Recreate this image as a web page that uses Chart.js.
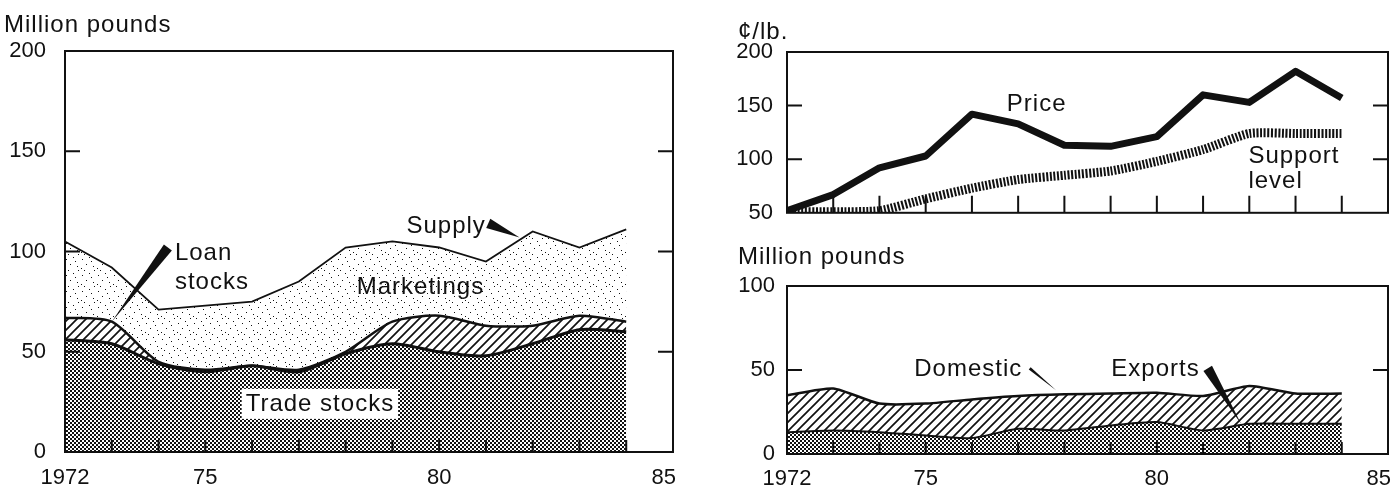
<!DOCTYPE html>
<html>
<head>
<meta charset="utf-8">
<script src="https://cdn.jsdelivr.net/npm/chart.js"></script>
<style>
  html, body { margin: 0; padding: 0; background: #fff; overflow: hidden; width: 1394px; height: 492px; }
  canvas { position: absolute; }
</style>
</head>
<body>
<canvas id="supplyChart" width="700" height="492" style="left:0;top:0"></canvas>
<canvas id="priceChart" width="720" height="240" style="left:700px;top:0"></canvas>
<canvas id="useChart" width="720" height="252" style="left:700px;top:240px"></canvas>
<script>
// data
const years = [1972, 1973, 1974, 1975, 1976, 1977, 1978, 1979, 1980, 1981, 1982, 1983, 1984];
const tradeStocks = [56, 54, 44, 40, 43, 40, 49, 54, 50, 48, 54, 61, 60];
const loanStocks = [11, 11, 1, 1, 0, 1, 1, 11, 18, 15, 9, 7, 5];
const marketings = [38, 27, 26, 32, 32, 44, 52, 40, 34, 32, 47, 34, 46];
const price = [52, 67, 92, 103, 142, 133, 113, 112, 121, 160, 153, 182, 157];
const supportLevel = [51, 51, 52, 63, 73, 81, 85, 89, 98, 109, 124, 124, 124];
const exportsUse = [13, 14, 13, 11, 9.5, 15, 14, 17, 19, 14, 18, 18, 18];
const domesticUse = [22, 25, 17, 19, 23, 19.5, 21.5, 19, 17.5, 20.5, 22.5, 18, 18];

// the "85" label sits a hair left of the frame edge
const yearTicks = [1972, 1975, 1980, 1984.8];
const yearTickLabels = ['1972', '75', '80', '85'];
const supplyTicks = [0, 50, 100, 150, 200];
const priceTicks = [50, 100, 150, 200];
const useTicks = [0, 50, 100];

const INK = '#111';
const FONT = '"Liberation Sans", Arial, sans-serif';

const pts = arr => years.map((yr, i) => ({ x: yr, y: arr[i] }));

// fill textures
const tile = (size, draw) => {
    const c = document.createElement('canvas');
    c.width = size; c.height = size;
    const g = c.getContext('2d');
    g.fillStyle = '#fff'; g.fillRect(0, 0, size, size);
    g.fillStyle = INK; g.strokeStyle = INK;
    draw(g, size);
    return c;
};
const denseTile = tile(4, g => { g.fillRect(0, 0, 2, 2); g.fillRect(2, 2, 2, 2); });
const hatchTile = tile(9, (g, s) => {
    g.lineWidth = 1.7;
    g.beginPath();
    g.moveTo(-1, s + 1); g.lineTo(s + 1, -1);
    g.moveTo(-2, 2); g.lineTo(2, -2);
    g.moveTo(s - 2, s + 2); g.lineTo(s + 2, s - 2);
    g.stroke();
});
const stippleTile = tile(16, g => {
    [[2, 3], [9, 1], [6, 8], [13, 10], [1, 12], [11, 5], [4, 14], [14, 14]].forEach(([x, y]) => g.fillRect(x, y, 1, 1));
});

const wedge = (ctx, x1, y1, x2, y2, w) => {
    const dx = x2 - x1, dy = y2 - y1, len = Math.hypot(dx, dy);
    const nx = -dy / len * w / 2, ny = dx / len * w / 2;
    ctx.beginPath();
    ctx.moveTo(x1 + nx, y1 + ny);
    ctx.lineTo(x2, y2);
    ctx.lineTo(x1 - nx, y1 - ny);
    ctx.closePath();
    ctx.fill();
};

// frame, inward ticks, title and the in-plot notes
const decor = (opts) => ({
    id: 'decor',
    afterDatasetsDraw(chart) {
        const { ctx, chartArea: a, scales: { x, y } } = chart;
        ctx.save();
        ctx.strokeStyle = INK;
        ctx.lineWidth = 2;
        ctx.strokeRect(a.left, a.top, a.right - a.left, a.bottom - a.top);
        ctx.beginPath();
        opts.yTicks.forEach(v => {
            const py = y.getPixelForValue(v);
            ctx.moveTo(a.left, py); ctx.lineTo(a.left + 15, py);
            ctx.moveTo(a.right, py); ctx.lineTo(a.right - 15, py);
        });
        years.slice(1).forEach(yr => {
            const px = x.getPixelForValue(yr);
            ctx.moveTo(px, a.bottom); ctx.lineTo(px, a.bottom - opts.xTickLen);
        });
        ctx.stroke();

        ctx.fillStyle = INK;
        ctx.font = '24px ' + FONT;
        ctx.letterSpacing = '1px';
        ctx.textBaseline = 'middle';
        ctx.textAlign = 'left';
        ctx.fillText(opts.title[0], opts.title[1], opts.title[2]);

        (opts.wedges || []).forEach(w => {
            wedge(ctx, x.getPixelForValue(w[0]), y.getPixelForValue(w[1]),
                x.getPixelForValue(w[2]), y.getPixelForValue(w[3]), w[4]);
        });
        (opts.notes || []).forEach(n => {
            const px = x.getPixelForValue(n.x), py = y.getPixelForValue(n.y);
            ctx.textAlign = n.align || 'center';
            if (n.box) {
                const tw = ctx.measureText(n.text).width;
                ctx.fillStyle = '#fff';
                ctx.fillRect(px - tw / 2 - 4, py - 15, tw + 8, 30);
                ctx.fillStyle = INK;
            }
            ctx.fillText(n.text, px, py);
        });
        ctx.restore();
    }
});

const xScale = (showLabels, height, pad) => ({
    type: 'linear', min: 1972, max: 1985,
    grid: { display: false, drawTicks: false }, border: { display: false },
    afterBuildTicks: s => { s.ticks = yearTicks.map(v => ({ value: v })); },
    afterFit: s => { s.height = height; },
    ticks: {
        display: showLabels, autoSkip: false, maxRotation: 0, padding: pad, color: INK,
        font: { family: FONT, size: 22 },
        callback: v => yearTickLabels[yearTicks.indexOf(v)]
    }
});
const yScale = (min, max, tickVals, width, pad, stacked) => ({
    min: min, max: max, stacked: stacked,
    grid: { display: false, drawTicks: false }, border: { display: false },
    afterBuildTicks: s => { s.ticks = tickVals.map(v => ({ value: v })); },
    afterFit: s => { s.width = width; },
    ticks: { padding: pad, color: INK, font: { family: FONT, size: 22 } }
});
const baseOptions = (padding, scales) => ({
    responsive: false, animation: false, devicePixelRatio: 1,
    layout: { padding: padding },
    elements: { point: { radius: 0 } },
    plugins: { legend: { display: false }, tooltip: { enabled: false } },
    scales: scales
});

// left: supply
const ctxS = document.getElementById('supplyChart').getContext('2d');
new Chart(ctxS, {
    type: 'line',
    data: {
        datasets: [
            { label: 'Trade stocks', data: pts(tradeStocks), fill: 'origin', tension: 0.25,
              backgroundColor: ctxS.createPattern(denseTile, 'repeat'), borderColor: INK, borderWidth: 3 },
            { label: 'Loan stocks', data: pts(loanStocks), fill: '-1', tension: 0.25,
              backgroundColor: ctxS.createPattern(hatchTile, 'repeat'), borderColor: INK, borderWidth: 2.5 },
            { label: 'Marketings', data: pts(marketings), fill: '-1', tension: 0,
              backgroundColor: ctxS.createPattern(stippleTile, 'repeat'), borderColor: INK, borderWidth: 1.8 }
        ]
    },
    options: baseOptions({ top: 51, right: 27, left: 0, bottom: 0 }, {
        x: xScale(true, 40, 13),
        y: yScale(0, 200, supplyTicks, 65, 19, true)
    }),
    plugins: [decor({
        yTicks: [50, 100, 150], xTickLen: 12,
        title: ['Million pounds', 4, 25],
        wedges: [[1981.05, 114, 1981.72, 107, 10], [1974.2, 102, 1973.0, 65, 10]],
        notes: [
            { text: 'Supply', x: 1980.15, y: 112.5 },
            { text: 'Loan', x: 1974.35, y: 99, align: 'left' },
            { text: 'stocks', x: 1974.35, y: 84.5, align: 'left' },
            { text: 'Marketings', x: 1979.6, y: 82 },
            { text: 'Trade stocks', x: 1977.45, y: 24, box: true }
        ]
    })]
});

// right top: price and support level
const ctxP = document.getElementById('priceChart').getContext('2d');
new Chart(ctxP, {
    type: 'line',
    data: {
        datasets: [
            { label: 'Price', data: pts(price), fill: false, tension: 0,
              borderColor: INK, borderWidth: 7, borderJoinStyle: 'round' },
            { label: 'Support level', data: pts(supportLevel), fill: false, tension: 0.2,
              borderColor: INK, borderWidth: 9, borderDash: [2, 1.6], borderCapStyle: 'butt' }
        ]
    },
    options: baseOptions({ top: 52, right: 32, left: 0, bottom: 0 }, {
        x: xScale(false, 21, 0),
        y: yScale(50, 200, priceTicks, 87, 14, false)
    }),
    plugins: [decor({
        yTicks: [100, 150], xTickLen: 17,
        title: ['¢/lb.', 38, 32],
        notes: [
            { text: 'Price', x: 1977.4, y: 151 },
            { text: 'Support', x: 1981.98, y: 103, align: 'left' },
            { text: 'level', x: 1981.98, y: 79, align: 'left' }
        ]
    })]
});

// right bottom: disappearance
const ctxU = document.getElementById('useChart').getContext('2d');
new Chart(ctxU, {
    type: 'line',
    data: {
        datasets: [
            { label: 'Exports', data: pts(exportsUse), fill: 'origin', tension: 0.2,
              backgroundColor: ctxU.createPattern(denseTile, 'repeat'), borderColor: INK, borderWidth: 2 },
            { label: 'Domestic', data: pts(domesticUse), fill: '-1', tension: 0.2,
              backgroundColor: ctxU.createPattern(hatchTile, 'repeat'), borderColor: INK, borderWidth: 2.5 }
        ]
    },
    options: baseOptions({ top: 46, right: 32, left: 0, bottom: 0 }, {
        x: xScale(true, 38, 12),
        y: yScale(0, 100, useTicks, 87, 12, true)
    }),
    plugins: [decor({
        yTicks: [50], xTickLen: 12,
        title: ['Million pounds', 38, 17],
        wedges: [[1977.25, 51, 1977.82, 38, 3], [1981.1, 51, 1981.82, 18, 10]],
        notes: [
            { text: 'Domestic', x: 1975.92, y: 50.5 },
            { text: 'Exports', x: 1979.97, y: 50.5 }
        ]
    })]
});
</script>
</body>
</html>
